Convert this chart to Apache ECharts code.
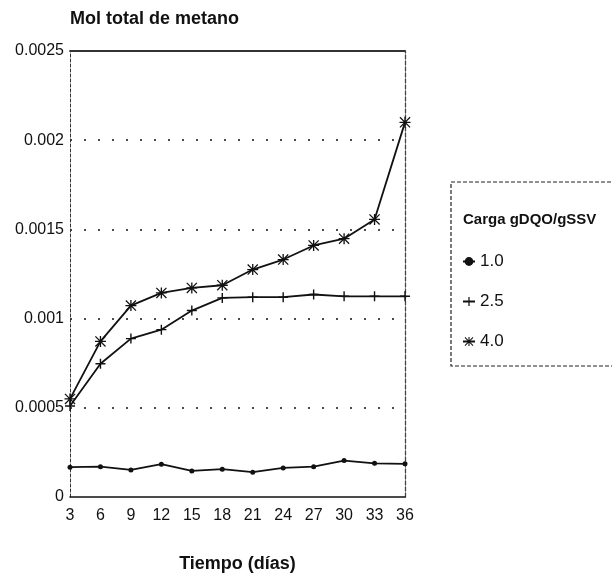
<!DOCTYPE html>
<html><head><meta charset="utf-8">
<script src="https://cdn.jsdelivr.net/npm/echarts@6/dist/echarts.min.js"></script>
<style>html,body{margin:0;padding:0;background:#fff}#c{width:612px;height:585px}</style>
</head><body><div id="c"></div>
<script>
var days = ['3','6','9','12','15','18','21','24','27','30','33','36'];
var yTicks = ['0','0.0005','0.001','0.0015','0.002','0.0025'];
var names = ['1.0','2.5','4.0'];
var s10 = [0.000167,0.000170,0.000152,0.000184,0.000146,0.000156,0.000139,0.000163,0.000170,0.000204,0.000189,0.000186];
var s25 = [0.000510,0.000747,0.000888,0.000938,0.001045,0.001116,0.001120,0.001120,0.001135,0.001125,0.001125,0.001125];
var s40 = [0.000550,0.000872,0.001073,0.001144,0.001172,0.001187,0.001275,0.001331,0.001410,0.001448,0.001556,0.002100];

var FONT = "'Liberation Sans Narrow','Liberation Sans',Arial,sans-serif";
var plusSym = 'path://M4.3,0H5.7V4.3H10V5.7H5.7V10H4.3V5.7H0V4.3H4.3Z';
var starSym = 'path://M0.8,0L10,9.2L9.2,10L0,0.8Z M9.2,0L10,0.8L0.8,10L0,9.2Z M0,4.4H10V5.6H0Z M4.4,0H5.6V10H4.4Z';

var chart = echarts.init(document.getElementById('c'));
function ser(name, data, sym, size){
  return {name:name, type:'line', data:data, symbol:sym, symbolSize:size,
    showSymbol:true, xAxisIndex:0, yAxisIndex:0,
    lineStyle:{color:'#111', width:1.8}, itemStyle:{color:'#111'}};
}
chart.setOption({
  animation:false,
  backgroundColor:'#fff',
  textStyle:{fontFamily:FONT},
  title:[{text:'Mol total de metano', left:65, top:5,
          textStyle:{fontFamily:FONT, fontWeight:'bold', fontSize:18, color:'#111'}},
         {text:'Carga gDQO/gSSV', left:458, top:207,
          textStyle:{fontFamily:FONT, fontWeight:'bold', fontSize:15, color:'#111'}}],
  grid:{left:70, right:207, top:51, bottom:88, show:false},
  graphic:[{type:'rect', shape:{x:451, y:182, width:170, height:184},
            style:{fill:'none', stroke:'#222', lineWidth:1.2, lineDash:[4,2]}}],
  legend:{orient:'vertical', left:457, top:248, itemGap:23, itemWidth:12, itemHeight:11,
          data:names, textStyle:{fontFamily:FONT, fontSize:17, color:'#111'}},
  xAxis:[{type:'category', data:days, boundaryGap:false, z:5,
          axisLine:{onZero:false, lineStyle:{color:'#111', width:1.6}}, axisTick:{show:false},
          axisLabel:{color:'#111', fontSize:16, margin:11, fontFamily:FONT},
          splitLine:{show:false},
          name:'Tiempo (días)', nameLocation:'middle', nameGap:58,
          nameTextStyle:{fontFamily:FONT, fontSize:18, fontWeight:'bold', color:'#111'}},
         {type:'category', data:days, boundaryGap:false, position:'top',
          axisLine:{onZero:false, lineStyle:{color:'#333', width:1.8}}, axisTick:{show:false}, axisLabel:{show:false}}],
  yAxis:[{type:'value', min:0, max:0.0025, interval:0.0005,
          axisLine:{show:true, lineStyle:{color:'#333', width:1, type:[3,2]}}, axisTick:{show:false},
          axisLabel:{color:'#111', fontSize:16, margin:6, fontFamily:FONT,
                     formatter:function(v){ return yTicks[Math.round(v/0.0005)]; }},
          splitLine:{show:true, showMinLine:false, showMaxLine:false,
                     lineStyle:{color:'#111', width:1.5, type:[2,12]}}},
         {type:'value', min:0, max:0.0025, interval:0.0005, position:'right',
          axisLine:{show:true, onZero:false, lineStyle:{color:'#444', width:1.3, type:[4,2]}},
          axisTick:{show:false}, axisLabel:{show:false}, splitLine:{show:false}}],
  series:[ser(names[0], s10, 'circle', 5),
          ser(names[1], s25, plusSym, 10),
          ser(names[2], s40, starSym, 11)]
});
</script></body></html>
